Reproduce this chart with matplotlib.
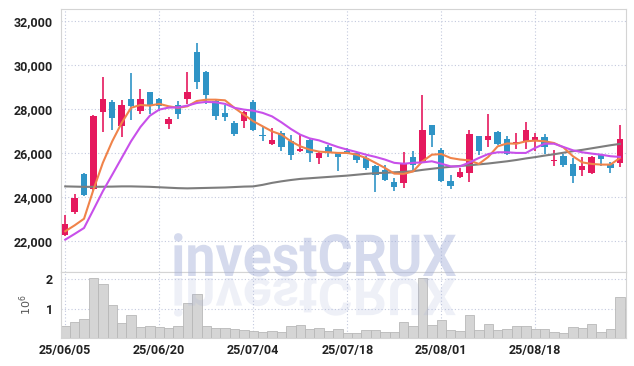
import pandas as pd
import matplotlib
matplotlib.use('Agg')
import matplotlib.pyplot as plt
from matplotlib.textpath import TextPath
from matplotlib.patches import PathPatch
from matplotlib.font_manager import FontProperties
from matplotlib.transforms import Affine2D

plt.rcParams['font.family'] = ['Roboto', 'DejaVu Sans']

# Datas de pregão (sem 06/06 e 15/08)
datas = pd.bdate_range('2025-06-05', '2025-08-29', freq='C',
                       holidays=['2025-06-06', '2025-08-15'])
rotulos = list(datas.strftime('%y/%m/%d'))

abertura = [22270, 23330, 25070, 24350, 27850, 28340, 27220, 28480, 27920, 28800,
            28460, 27310, 28170, 28480, 30580, 29670, 28390, 27830, 27390, 27450,
            28340, 26800, 26430, 26930, 26570, 26080, 26610, 25800, 26300, 26040,
            26110, 26010, 25780, 25400, 25240, 24700, 24630, 25840, 25580, 27280,
            26160, 24750, 24900, 25080, 26760, 26580, 26980, 26660, 26400, 26560,
            26570, 26750, 25650, 25890, 25520, 25220, 25080, 25900, 25520, 25540]
maxima = [23200, 24160, 25100, 27750, 29460, 28420, 28430, 29640, 28920, 28800,
          28520, 27650, 28390, 29700, 31010, 29750, 28450, 28200, 27480, 27900,
          28400, 27250, 27150, 26990, 26810, 26870, 26700, 26080, 26350, 26060,
          26220, 26050, 25890, 25450, 25450, 24870, 26040, 26100, 28650, 27300,
          26250, 25010, 25330, 27070, 26800, 27780, 27020, 26760, 26900, 27420,
          26930, 26870, 26130, 25950, 25760, 25830, 25850, 25930, 25610, 27260]
minima = [22220, 23250, 24050, 24300, 26960, 27070, 26750, 27510, 27780, 27780,
          27920, 27100, 27560, 28220, 28920, 28250, 27520, 27450, 26760, 27150,
          27000, 26550, 26370, 26110, 25700, 26050, 25610, 25520, 25830, 25190,
          25960, 25550, 25220, 24250, 24740, 24300, 24430, 25220, 25550, 26280,
          24680, 24350, 24880, 24690, 25920, 26280, 26350, 25900, 26190, 26190,
          26080, 25960, 25430, 25370, 24650, 24980, 25060, 25430, 25100, 25370]
fechamento = [22800, 23980, 24080, 27700, 28480, 27580, 28190, 28160, 28460, 28170,
              28130, 27570, 27760, 28760, 29220, 28630, 27700, 27660, 26890, 27890,
              27040, 26770, 26610, 26260, 25900, 26200, 25990, 26020, 26020, 25840,
              25990, 25670, 25330, 24990, 24780, 24450, 25510, 25480, 27070, 26810,
              24720, 24490, 25130, 26890, 26080, 26800, 26420, 25960, 26520, 27070,
              26750, 26280, 25710, 25450, 24950, 25430, 25830, 25720, 25310, 26660]

media_5 = [22450, 22720, 23020, 24340, 25560, 26540, 27370, 28060, 28190, 28160,
           28240, 28130, 28060, 28130, 28370, 28430, 28430, 28400, 28060, 27750,
           27450, 27220, 26990, 26840, 26540, 26310, 26160, 26070, 26040, 26010,
           26010, 25930, 25780, 25560, 25330, 25070, 25060, 25170, 25630, 25930,
           25960, 25780, 25710, 25670, 25510, 25830, 26310, 26440, 26430, 26540,
           26570, 26540, 26460, 26260, 25860, 25580, 25510, 25480, 25480, 25780]
media_10 = [22070, 22330, 22600, 23430, 24270, 25020, 25780, 26540, 27190, 27700,
            27980, 28070, 28080, 28160, 28280, 28330, 28310, 28240, 28060, 27980,
            27930, 27830, 27670, 27400, 27100, 26840, 26670, 26580, 26430, 26280,
            26160, 26050, 25930, 25830, 25710, 25560, 25520, 25560, 25580, 25630,
            25520, 25400, 25400, 25580, 25780, 25960, 26040, 26040, 26010, 26010,
            26240, 26430, 26430, 26280, 26130, 26040, 25980, 25930, 25860, 25830]
media_longa = [24490, 24480, 24470, 24470, 24475, 24480, 24490, 24490, 24480, 24470,
               24450, 24430, 24410, 24400, 24410, 24420, 24430, 24440, 24460, 24480,
               24490, 24560, 24650, 24720, 24780, 24830, 24860, 24890, 24920, 24950,
               24980, 25020, 25060, 25090, 25110, 25130, 25150, 25180, 25240, 25290,
               25340, 25380, 25420, 25450, 25490, 25530, 25580, 25630, 25690, 25760,
               25820, 25890, 25950, 26020, 26090, 26150, 26220, 26290, 26360, 26420]

# Volume em milhões
volume = [0.41, 0.55, 0.64, 2.04, 1.83, 1.11, 0.51, 0.77, 0.38, 0.41,
          0.38, 0.34, 0.41, 1.19, 1.49, 0.40, 0.34, 0.34, 0.30, 0.26,
          0.23, 0.20, 0.23, 0.20, 0.41, 0.44, 0.30, 0.33, 0.23, 0.30,
          0.17, 0.16, 0.26, 0.26, 0.20, 0.20, 0.55, 0.41, 2.04, 0.44,
          0.60, 0.26, 0.23, 0.77, 0.26, 0.49, 0.26, 0.32, 0.41, 0.41,
          0.30, 0.30, 0.20, 0.16, 0.37, 0.33, 0.49, 0.20, 0.30, 1.40]

VERMELHO = '#e5195e'
AZUL = '#2f94c6'
GRADE = '#c3c9de'
W, H = 634, 366

fig = plt.figure(figsize=(W / 100, H / 100), dpi=100)
ax = fig.add_axes([61 / W, (H - 272) / H, 565 / W, 263 / H])
axv = fig.add_axes([61 / W, (H - 338) / H, 565 / W, 66 / H], sharex=ax)

x = list(range(len(datas)))

# Candles
for i in x:
    cor = VERMELHO if fechamento[i] >= abertura[i] else AZUL
    ax.vlines(i, minima[i], maxima[i], color=cor, lw=1.2, zorder=3)
    base = min(abertura[i], fechamento[i])
    altura = max(abs(fechamento[i] - abertura[i]), 40)
    ax.bar(i, altura, bottom=base, width=0.68, color=cor, zorder=3)

ax.plot(x, media_longa, color='#7d7d7d', lw=1.5, zorder=4)
ax.plot(x, media_5, color='#f0834a', lw=1.5, zorder=4)
ax.plot(x, media_10, color='#c850ea', lw=1.5, zorder=4)

ax.set_ylim(20600, 32550)
ax.set_yticks(range(22000, 32001, 2000))
ax.set_yticklabels([f'{v:,}' for v in range(22000, 32001, 2000)])
ax.set_xlim(-0.45, 59.65)
ax.tick_params(axis='x', labelbottom=False, length=0)
ax.tick_params(axis='y', length=0, pad=6, labelsize=9, labelcolor='#222222')

# Volume
axv.bar(x, volume, width=1.0, color='#d5d5d5', edgecolor='#b8b8b8', lw=0.6, zorder=2)
axv.set_ylim(0, 2.24)
axv.set_yticks([1, 2])
axv.set_xticks(range(0, 60, 10))
axv.set_xticklabels([rotulos[i] for i in range(0, 60, 10)])
axv.tick_params(length=0, labelsize=9, labelcolor='#222222')
axv.tick_params(axis='y', pad=6)
axv.tick_params(axis='x', pad=4)
axv.set_ylabel('$10^6$', fontsize=8, color='#555555', labelpad=8)

for a in (ax, axv):
    for lbl in a.get_xticklabels() + a.get_yticklabels():
        lbl.set_fontweight('bold')
    a.grid(True, color=GRADE, linestyle=(0, (1, 2)), lw=0.8, zorder=0)
    a.set_axisbelow(True)
    for s in a.spines.values():
        s.set_color('#d4d4d4')
        s.set_linewidth(0.8)

# Marca d'água com reflexo
fonte = FontProperties(family='Roboto', weight='bold')
caminho = TextPath((0, 0), 'investCRUX', size=1, prop=fonte)
ext = caminho.get_extents()
sx = 282 / ext.width
sy = sx * 1.08
px = Affine2D().scale(1 / W, 1 / H) + fig.transFigure
t_texto = Affine2D().translate(-ext.x0, 0).scale(sx, sy).translate(174, H - 276)
t_reflexo = Affine2D().translate(-ext.x0, 0).scale(sx, -sy * 0.9).translate(174, H - 278)
fig.add_artist(PathPatch(t_texto.transform_path(caminho), transform=px,
                         color='#a2aed8', alpha=0.45, lw=0, zorder=10))
fig.add_artist(PathPatch(t_reflexo.transform_path(caminho), transform=px,
                         color='#a2aed8', alpha=0.18, lw=0, zorder=10))

plt.savefig('out.png', dpi=100)
